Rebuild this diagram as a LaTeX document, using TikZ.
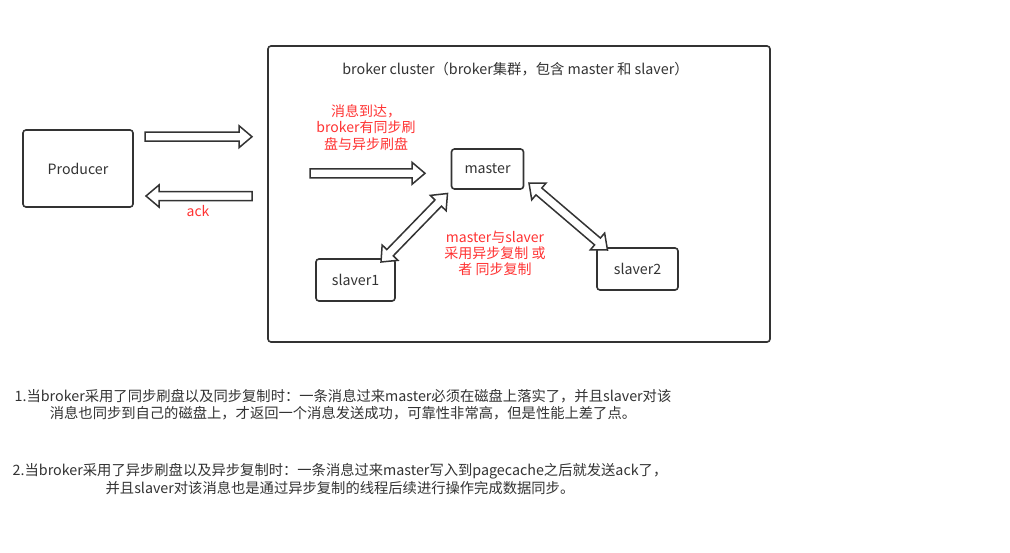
\documentclass[tikz,border=0pt]{standalone}
\usepackage{fontspec}
\setmainfont{Noto Sans CJK SC}
\usetikzlibrary{calc}
\definecolor{linec}{HTML}{333333}
\definecolor{redc}{HTML}{FF3333}
\tikzset{
  box/.style={draw=linec, line width=1.6pt, rounded corners=3pt, fill=white, text=linec, font=\fontsize{14.2}{16}\selectfont, inner sep=0pt},
  redtxt/.style={text=redc, font=\fontsize{14}{16.3}\selectfont, align=center, inner sep=0pt},
  graytxt/.style={text=linec, font=\fontsize{14.3}{17.5}\selectfont, align=center, inner sep=0pt},
  flex/.style={draw=linec, line width=1.5pt, fill=white, line join=miter, miter limit=4},
  singlearrow/.style={to path={let \p1=(\tikztostart),\p2=(\tikztotarget),
    \n1={atan2(\y2-\y1,\x2-\x1)},\n2={veclen(\x2-\x1,\y2-\y1)} in
    ($(\p1)+({\n1+90}:4.5pt)$)
    -- ($(\p1)+(\n1:{(\n2-13)*1pt})+({\n1+90}:4.5pt)$)
    -- ($(\p1)+(\n1:{(\n2-13)*1pt})+({\n1+90}:11pt)$)
    -- (\p2)
    -- ($(\p1)+(\n1:{(\n2-13)*1pt})+({\n1-90}:11pt)$)
    -- ($(\p1)+(\n1:{(\n2-13)*1pt})+({\n1-90}:4.5pt)$)
    -- ($(\p1)+({\n1-90}:4.5pt)$) -- cycle}},
  doublearrow/.style={to path={let \p1=(\tikztostart),\p2=(\tikztotarget),
    \n1={atan2(\y2-\y1,\x2-\x1)},\n2={veclen(\x2-\x1,\y2-\y1)} in
    (\p1)
    -- ($(\p1)+(\n1:13pt)+({\n1+90}:11pt)$)
    -- ($(\p1)+(\n1:13pt)+({\n1+90}:4.5pt)$)
    -- ($(\p1)+(\n1:{(\n2-13)*1pt})+({\n1+90}:4.5pt)$)
    -- ($(\p1)+(\n1:{(\n2-13)*1pt})+({\n1+90}:11pt)$)
    -- (\p2)
    -- ($(\p1)+(\n1:{(\n2-13)*1pt})+({\n1-90}:11pt)$)
    -- ($(\p1)+(\n1:{(\n2-13)*1pt})+({\n1-90}:4.5pt)$)
    -- ($(\p1)+(\n1:13pt)+({\n1-90}:4.5pt)$)
    -- ($(\p1)+(\n1:13pt)+({\n1-90}:11pt)$)
    -- cycle}}
}
\begin{document}
\begin{tikzpicture}[x=1pt,y=-1pt]
\useasboundingbox[fill=white] (0,0) rectangle (1010,552);
% boxes
\node[box, minimum width=110pt, minimum height=77pt] (prod) at (78,168.5) {Producer};
\node[box, minimum width=502pt, minimum height=296pt] (cluster) at (519,194) {};
\node[graytxt, anchor=center] (title) at (515.5,69) {broker cluster（broker集群，包含 master 和 slaver）};
\node[box, minimum width=72pt, minimum height=40pt] (master) at (487.5,169) {master};
\node[box, minimum width=79pt, minimum height=42pt] (slave1) at (355.5,280) {slaver1};
\node[box, minimum width=81pt, minimum height=42pt] (slave2) at (637.5,269) {slaver2};
% arrow end points
\coordinate (a1s) at (145,136.7);
\coordinate (a1e) at (252,136.7);
\coordinate (a2s) at (252,196);
\coordinate (a2e) at (146,196);
\coordinate (a3s) at (310,173.3);
\coordinate (a3e) at (425,173.3);
\coordinate (d1s) at (381,262);
\coordinate (d1e) at (447.5,193.5);
\coordinate (d2s) at (529,183);
\coordinate (d2e) at (607.5,250);
\path[flex] (a1s) to[singlearrow] (a1e);
\path[flex] (a2s) to[singlearrow] (a2e);
\path[flex] (a3s) to[singlearrow] (a3e);
\path[flex] (d1s) to[doublearrow] (d1e);
\path[flex] (d2s) to[doublearrow] (d2e);
% labels
\node[redtxt] (ack) at (198,211) {ack};
\node[redtxt] (flush) at (366,127.5) {消息到达，\\broker有同步刷\\盘与异步刷盘};
\node[redtxt] (repl) at (495,253.5) {master与slaver\\采用异步复制 或\\者 同步复制};
% notes
\node[graytxt] (note1) at (343,404.5) {1.当broker采用了同步刷盘以及同步复制时：一条消息过来master必须在磁盘上落实了，并且slaver对该\\消息也同步到自己的磁盘上，才返回一个消息发送成功，可靠性非常高，但是性能上差了点。};
\node[graytxt] (note2) at (340,479) {2.当broker采用了异步刷盘以及异步复制时：一条消息过来master写入到pagecache之后就发送ack了，\\并且slaver对该消息也是通过异步复制的线程后续进行操作完成数据同步。};
\end{tikzpicture}
\end{document}
